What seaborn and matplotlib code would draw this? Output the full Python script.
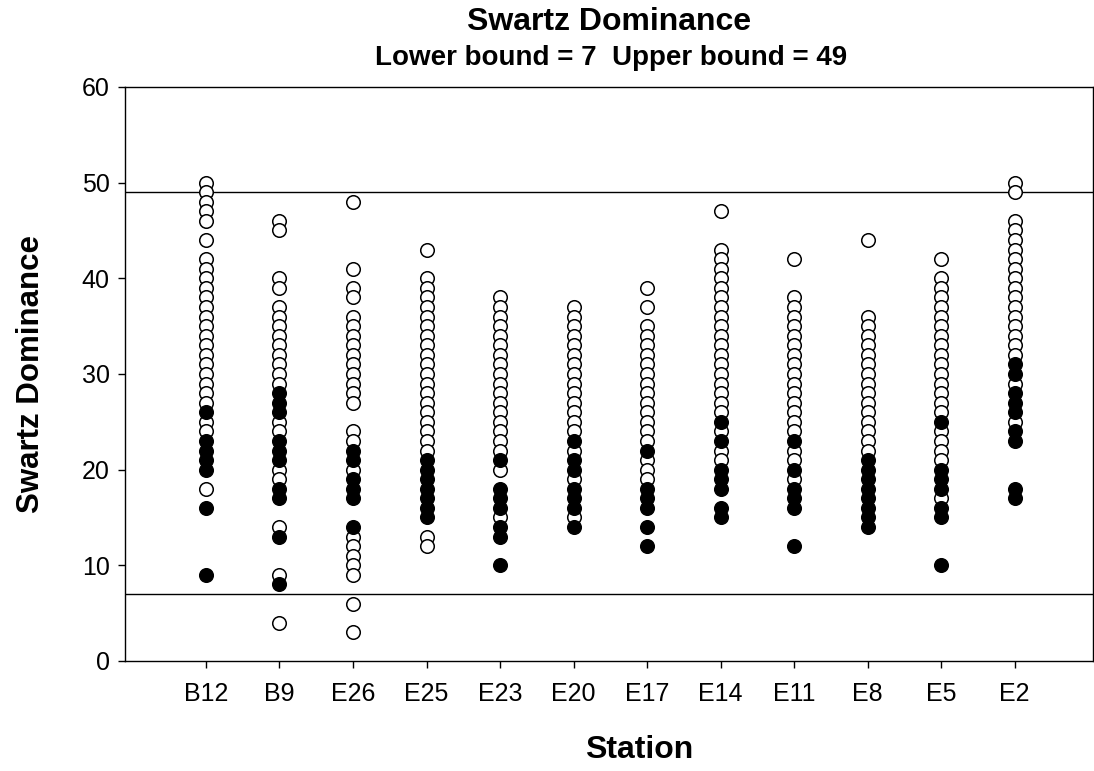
import matplotlib
matplotlib.use("Agg")
import matplotlib.pyplot as plt
import seaborn as sns
import pandas as pd

stations = ["B12", "B9", "E26", "E25", "E23", "E20", "E17", "E14", "E11", "E8", "E5", "E2"]

open_vals = {
    "B12": [50, 49, 48, 47, 46, 44, 42, 41, 40, 39, 38, 37, 36, 35, 34, 33, 32, 31, 30, 29, 28, 27, 25, 24, 18],
    "B9": [46, 45, 40, 39, 37, 36, 35, 34, 33, 32, 31, 30, 29, 25, 24, 20, 19, 14, 9, 4],
    "E26": [48, 41, 39, 38, 36, 35, 34, 33, 32, 31, 30, 29, 28, 27, 24, 23, 20, 13, 12, 11, 10, 9, 6, 3],
    "E25": [43, 40, 39, 38, 37, 36, 35, 34, 33, 32, 31, 30, 29, 28, 27, 26, 25, 24, 23, 22, 13, 12],
    "E23": [38, 37, 36, 35, 34, 33, 32, 31, 30, 29, 28, 27, 26, 25, 24, 23, 22, 20, 15],
    "E20": [37, 36, 35, 34, 33, 32, 31, 30, 29, 28, 27, 26, 25, 24, 22, 19, 15],
    "E17": [39, 37, 35, 34, 33, 32, 31, 30, 29, 28, 27, 26, 25, 24, 23, 21, 20, 19],
    "E14": [47, 43, 42, 41, 40, 39, 38, 37, 36, 35, 34, 33, 32, 31, 30, 29, 28, 27, 26, 24, 22, 21],
    "E11": [42, 38, 37, 36, 35, 34, 33, 32, 31, 30, 29, 28, 27, 26, 25, 24, 22, 21, 19],
    "E8": [44, 36, 35, 34, 33, 32, 31, 30, 29, 28, 27, 26, 25, 24, 23, 22],
    "E5": [42, 40, 39, 38, 37, 36, 35, 34, 33, 32, 31, 30, 29, 28, 27, 26, 24, 23, 22, 21, 17],
    "E2": [50, 49, 46, 45, 44, 43, 42, 41, 40, 39, 38, 37, 36, 35, 34, 33, 32, 29, 25],
}

filled_vals = {
    "B12": [26, 23, 22, 21, 20, 16, 9],
    "B9": [28, 27, 26, 23, 22, 21, 18, 17, 13, 8],
    "E26": [22, 21, 19, 18, 17, 14],
    "E25": [21, 20, 19, 18, 17, 16, 15],
    "E23": [21, 18, 17, 16, 14, 13, 10],
    "E20": [23, 21, 20, 18, 17, 16, 14],
    "E17": [22, 18, 17, 16, 14, 12],
    "E14": [25, 23, 20, 19, 18, 16, 15],
    "E11": [23, 20, 18, 17, 16, 12],
    "E8": [21, 20, 19, 18, 17, 16, 15, 14],
    "E5": [25, 20, 19, 18, 16, 15, 10],
    "E2": [31, 30, 28, 27, 26, 24, 23, 18, 17],
}

lower_bound = 7
upper_bound = 49
y_ticks = [0, 10, 20, 30, 40, 50, 60]

rows = []
for s in stations:
    for v in open_vals[s]:
        rows.append({"Station": s, "Value": v, "Kind": "open"})
    for v in filled_vals[s]:
        rows.append({"Station": s, "Value": v, "Kind": "filled"})
df = pd.DataFrame(rows)
df["Station"] = pd.Categorical(df["Station"], categories=stations, ordered=True)
df["pos"] = df["Station"].cat.codes

sns.set_theme(style="white")
plt.rcParams["font.family"] = ["Liberation Sans", "DejaVu Sans"]
plt.rcParams["text.color"] = "black"
plt.rcParams["axes.labelcolor"] = "black"
plt.rcParams["xtick.color"] = "black"
plt.rcParams["ytick.color"] = "black"

fig = plt.figure(figsize=(10.94, 7.71), dpi=100)
ax = fig.add_axes([0.1143, 0.1427, 0.8845, 0.7445])

sns.scatterplot(data=df[df["Kind"] == "open"], x="pos", y="Value", ax=ax,
                marker="o", s=95, facecolor="white", edgecolor="black",
                linewidth=1.1, zorder=3, legend=False)
sns.scatterplot(data=df[df["Kind"] == "filled"], x="pos", y="Value", ax=ax,
                marker="o", s=95, facecolor="black", edgecolor="black",
                linewidth=1.1, zorder=4, legend=False)

ax.axhline(lower_bound, color="black", lw=1.0, zorder=2)
ax.axhline(upper_bound, color="black", lw=1.0, zorder=2)

ax.set_xlim(-1.1, 12.06)
ax.set_ylim(0, 60)
ax.set_xticks(range(len(stations)))
ax.set_xticklabels(stations)
ax.set_yticks(y_ticks)
ax.tick_params(axis="both", which="major", direction="out", length=5, width=1,
               color="black", labelsize=18, labelcolor="black", bottom=True, left=True)
ax.tick_params(axis="x", pad=10)
ax.tick_params(axis="y", pad=6)
for sp in ax.spines.values():
    sp.set_color("black")
    sp.set_linewidth(1.0)

ax.set_xlabel("Station", fontsize=23, fontweight="bold", labelpad=21)
ax.set_ylabel("Swartz Dominance", fontsize=22.5, fontweight="bold", labelpad=26)
ax.xaxis.label.set_x(0.531)

fig.text(0.5567, 0.9715, "Swartz Dominance", ha="center", va="center", fontsize=23, fontweight="bold")
fig.text(0.5585, 0.925, "Lower bound = 7  Upper bound = 49", ha="center", va="center", fontsize=20, fontweight="bold")

fig.savefig("out.png", dpi=100)
